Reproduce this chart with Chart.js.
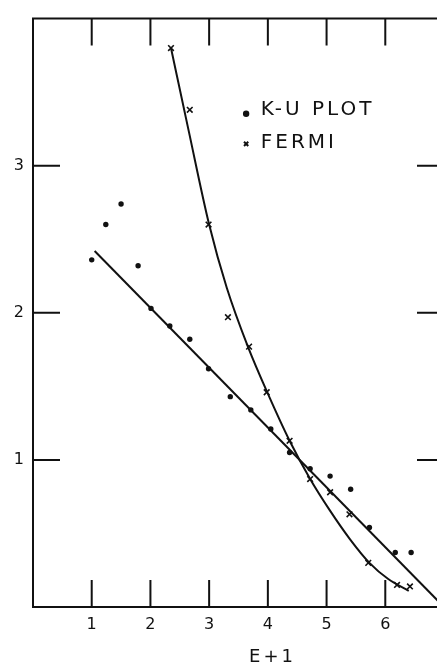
<!DOCTYPE html>
<html>
<head>
<meta charset="utf-8">
<script src="https://cdn.jsdelivr.net/npm/chart.js@4"></script>
<style>
  html, body { margin: 0; padding: 0; background: #fff; overflow: hidden; }
  #wrap { width: 437px; height: 665px; overflow: hidden; }
  canvas { display: block; }
</style>
</head>
<body>
<div id="wrap"><canvas id="chart" width="452" height="665"></canvas></div>
<script>
// ---- data ----
const xTickLabels = [1, 2, 3, 4, 5, 6];
const yTickLabels = [1, 2, 3];

// K-U plot points (dots)
const kuX = [1.00, 1.24, 1.50, 1.79, 2.01, 2.33, 2.67, 2.99, 3.36, 3.71, 4.05, 4.37, 4.72, 5.06, 5.41, 5.73, 6.17, 6.44];
const kuY = [2.36, 2.60, 2.74, 2.32, 2.03, 1.91, 1.82, 1.62, 1.43, 1.34, 1.21, 1.05, 0.94, 0.89, 0.80, 0.54, 0.37, 0.37];

// Fermi points (crosses)
const fermiX = [2.35, 2.67, 2.99, 3.32, 3.68, 3.98, 4.37, 4.72, 5.06, 5.39, 5.71, 6.20, 6.42];
const fermiY = [3.80, 3.38, 2.60, 1.97, 1.77, 1.46, 1.13, 0.87, 0.78, 0.63, 0.30, 0.15, 0.14];

// straight line through the K-U points
const kuLineX = [1.05, 6.95];
const kuLineY = [2.42, 0.02];

// hand-drawn curve through the Fermi points
const fermiCurveX = [2.35, 2.65, 3.00, 3.30, 3.66, 4.00, 4.37, 4.72, 5.05, 5.40, 5.73, 6.05, 6.40];
const fermiCurveY = [3.80, 3.24, 2.60, 2.17, 1.77, 1.45, 1.13, 0.87, 0.66, 0.46, 0.30, 0.19, 0.11];

const INK = '#111';
const FONT = '"DejaVu Sans", sans-serif';

function toPoints(xs, ys) {
    return xs.map((x, i) => ({ x: x, y: ys[i] }));
}

// frame top line + inward tick marks on all sides
const framePlugin = {
    id: 'frame',
    afterDraw(chart) {
        const ctx = chart.ctx;
        const a = chart.chartArea;
        const xs = chart.scales.x;
        const ys = chart.scales.y;
        const len = 27;
        ctx.save();
        ctx.strokeStyle = INK;
        ctx.lineWidth = 2;
        ctx.beginPath();
        ctx.moveTo(a.left - 1, a.top);
        ctx.lineTo(a.right, a.top);
        ctx.lineTo(a.right, a.bottom);
        ctx.stroke();

        ctx.beginPath();
        xTickLabels.forEach(v => {
            const px = xs.getPixelForValue(v);
            ctx.moveTo(px, a.bottom);
            ctx.lineTo(px, a.bottom - len);
            ctx.moveTo(px, a.top);
            ctx.lineTo(px, a.top + len);
        });
        yTickLabels.forEach(v => {
            const py = ys.getPixelForValue(v);
            ctx.moveTo(a.left, py);
            ctx.lineTo(a.left + len, py);
            ctx.moveTo(a.right, py);
            ctx.lineTo(a.right - len, py);
        });
        ctx.stroke();

        // axis title, placed off-centre like the original
        ctx.fillStyle = INK;
        ctx.font = '18px ' + FONT;
        ctx.letterSpacing = '3px';
        ctx.textAlign = 'center';
        ctx.textBaseline = 'middle';
        ctx.fillText('E+1', xs.getPixelForValue(4.08), 657);

        // legend in the upper right
        const items = [chart.data.datasets[0], chart.data.datasets[1]];
        ctx.font = '20px ' + FONT;
        ctx.letterSpacing = '3px';
        ctx.textAlign = 'left';
        const lx = xs.getPixelForValue(3.63);
        const tx = xs.getPixelForValue(3.88);
        const rows = [ys.getPixelForValue(3.38), ys.getPixelForValue(3.155)];
        items.forEach((ds, i) => {
            const isDot = ds.pointStyle === 'circle';
            Chart.helpers.drawPoint(ctx, {
                pointStyle: ds.pointStyle,
                radius: isDot ? 2.2 : 3,
                rotation: 0,
                borderWidth: 1.5
            }, lx, rows[i] + (isDot ? 4 : 1));
            ctx.fillStyle = INK;
            ctx.fillText(ds.label, tx, rows[i]);
        });
        ctx.restore();
    }
};

new Chart(document.getElementById('chart'), {
    type: 'scatter',
    data: {
        datasets: [
            {
                label: 'K-U PLOT',
                data: toPoints(kuX, kuY),
                pointStyle: 'circle',
                pointRadius: 2.7,
                pointBackgroundColor: INK,
                pointBorderColor: INK,
                pointBorderWidth: 0,
                showLine: false,
                order: 1
            },
            {
                label: 'FERMI',
                data: toPoints(fermiX, fermiY),
                pointStyle: 'crossRot',
                pointRadius: 4,
                pointBorderColor: INK,
                pointBorderWidth: 1.6,
                showLine: false,
                order: 1
            },
            {
                label: 'K-U line',
                data: toPoints(kuLineX, kuLineY),
                showLine: true,
                borderColor: INK,
                borderWidth: 2,
                pointRadius: 0,
                order: 2
            },
            {
                label: 'Fermi curve',
                data: toPoints(fermiCurveX, fermiCurveY),
                showLine: true,
                borderColor: INK,
                borderWidth: 2,
                pointRadius: 0,
                cubicInterpolationMode: 'monotone',
                order: 2
            }
        ]
    },
    options: {
        responsive: false,
        animation: false,
        devicePixelRatio: 1,
        layout: { padding: { top: 12, right: 3.6, left: 0, bottom: 0 } },
        plugins: {
            legend: { display: false },
            tooltip: { enabled: false }
        },
        scales: {
            x: {
                type: 'linear',
                min: 0,
                max: 7,
                afterFit: s => { s.height = 58; },
                grid: { display: false, drawTicks: false },
                border: { display: true, color: INK, width: 2 },
                ticks: {
                    stepSize: 1,
                    padding: 8,
                    color: INK,
                    font: { family: FONT, size: 16 },
                    callback: v => xTickLabels.includes(v) ? String(v) : ''
                }
            },
            y: {
                type: 'linear',
                min: 0,
                max: 4,
                afterFit: s => { s.width = 33; },
                grid: { display: false, drawTicks: false },
                border: { display: true, color: INK, width: 2 },
                ticks: {
                    stepSize: 1,
                    padding: 9,
                    color: INK,
                    font: { family: FONT, size: 16 },
                    callback: v => yTickLabels.includes(v) ? String(v) : ''
                }
            }
        }
    },
    plugins: [framePlugin]
});
</script>
</body>
</html>
